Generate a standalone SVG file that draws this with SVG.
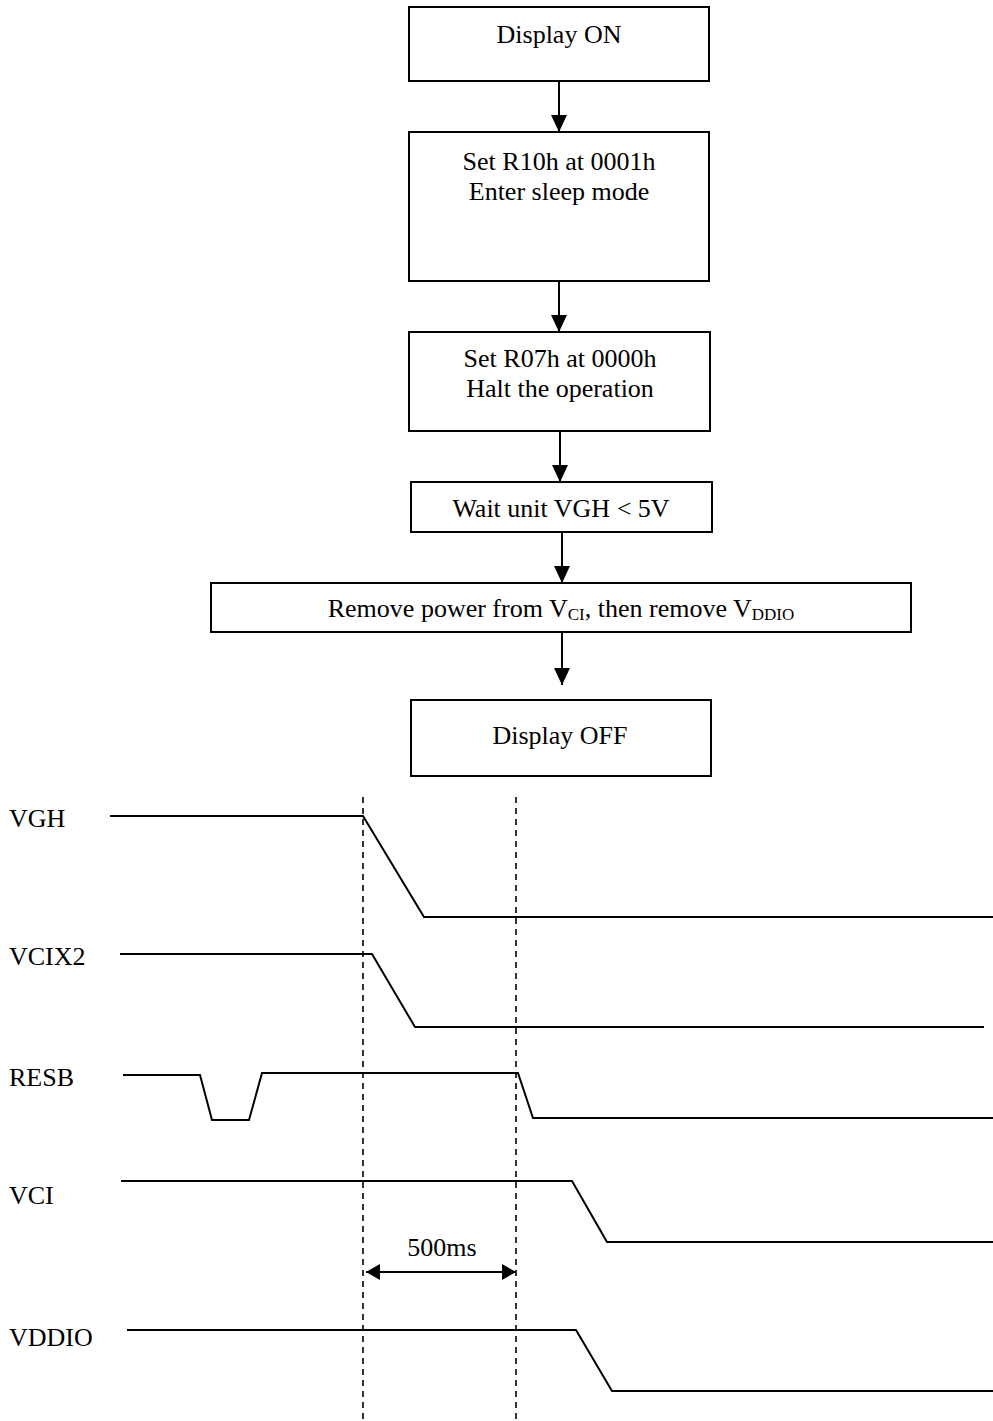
<svg xmlns="http://www.w3.org/2000/svg" width="993" height="1421" viewBox="0 0 993 1421">
<style>
text{font-family:"Liberation Serif","Times New Roman",serif;font-size:26px;fill:#000}
.c{text-anchor:middle}
.box{fill:#fff;stroke:#000;stroke-width:2}
.conn{stroke:#000;stroke-width:2;fill:none}
.sig{stroke:#000;stroke-width:2;fill:none;stroke-linejoin:miter}
.dash{stroke:#000;stroke-width:1.6;stroke-dasharray:6 5;fill:none}
</style>
<defs>
<marker id="ah" markerUnits="userSpaceOnUse" markerWidth="17" markerHeight="16" refX="17" refY="8" orient="auto">
<path d="M0,0 L17,8 L0,16 Z" fill="#000"/>
</marker>
<marker id="dh" markerUnits="userSpaceOnUse" markerWidth="14" markerHeight="16" refX="14" refY="8" orient="auto-start-reverse">
<path d="M0,0 L14,8 L0,16 Z" fill="#000"/>
</marker>
</defs>
<rect width="993" height="1421" fill="#fff"/>
<g id="n-display-on"><rect class="box" x="409" y="7" width="300" height="74"/><text class="c" x="559" y="43">Display ON</text></g>
<g id="n-set-r10h"><rect class="box" x="409" y="132" width="300" height="149"/><text class="c" x="559" y="170">Set R10h at 0001h</text><text class="c" x="559" y="200">Enter sleep mode</text></g>
<g id="n-set-r07h"><rect class="box" x="409" y="332" width="301" height="99"/><text class="c" x="560" y="367">Set R07h at 0000h</text><text class="c" x="560" y="397">Halt the operation</text></g>
<g id="n-wait"><rect class="box" x="411" y="482" width="301" height="50"/><text class="c" x="561" y="517">Wait unit VGH &lt; 5V</text></g>
<g id="n-remove"><rect class="box" x="211" y="583" width="700" height="49"/><text class="c" x="561" y="617">Remove power from V<tspan font-size="17" dy="3">CI</tspan><tspan dy="-3">, then remove V</tspan><tspan font-size="17" dy="3">DDIO</tspan></text></g>
<g id="n-display-off"><rect class="box" x="411" y="700" width="300" height="76"/><text class="c" x="560" y="744">Display OFF</text></g>
<g id="connectors">
<line class="conn" x1="559" y1="81" x2="559" y2="132" marker-end="url(#ah)"/>
<line class="conn" x1="559" y1="281" x2="559" y2="332" marker-end="url(#ah)"/>
<line class="conn" x1="560" y1="431" x2="560" y2="482" marker-end="url(#ah)"/>
<line class="conn" x1="562" y1="532" x2="562" y2="583" marker-end="url(#ah)"/>
<line class="conn" x1="562" y1="632" x2="562" y2="685" marker-end="url(#ah)"/>
</g>
<g id="timing">
<text x="9" y="827">VGH</text>
<text x="9" y="965">VCIX2</text>
<text x="9" y="1086">RESB</text>
<text x="9" y="1204">VCI</text>
<text x="9" y="1346">VDDIO</text>
<line class="dash" x1="363" y1="797" x2="363" y2="1421"/>
<line class="dash" x1="516" y1="797" x2="516" y2="1421"/>
<path class="sig" d="M110,816 H363 L424,917 H993"/>
<path class="sig" d="M120,954 H372 L415,1027 H984"/>
<path class="sig" d="M123,1075 H200 L212,1120 H249 L262,1073 H518 L533,1118 H993"/>
<path class="sig" d="M121,1181 H572 L607,1242 H993"/>
<path class="sig" d="M127,1330 H576 L612,1391 H993"/>
<text class="c" x="442" y="1256">500ms</text>
<line class="conn" x1="366" y1="1272" x2="516" y2="1272" marker-start="url(#dh)" marker-end="url(#dh)"/>
</g>
</svg>
